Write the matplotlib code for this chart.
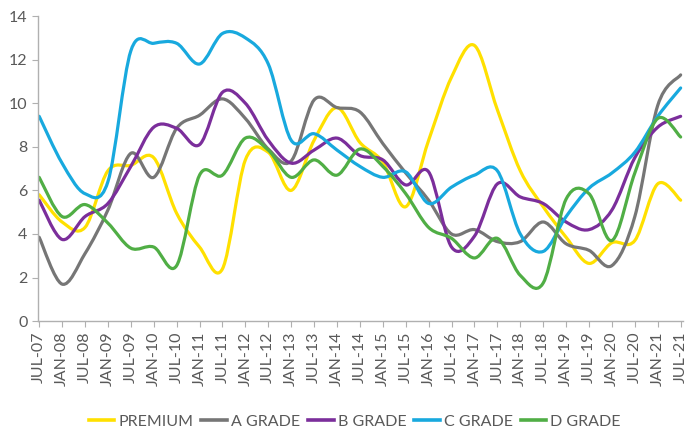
import numpy as np
import matplotlib.pyplot as plt
from matplotlib.path import Path
from matplotlib.patches import PathPatch
from matplotlib.lines import Line2D

plt.rcParams['font.family'] = ['Lato', 'DejaVu Sans']

# semi-annual periods
periods = []
for yr in range(7, 22):
    if yr > 7:
        periods.append('JAN-%02d' % yr)
    periods.append('JUL-%02d' % yr)

premium = [5.8, 4.55, 4.3, 6.9, 7.15, 7.5, 4.95, 3.4, 2.4, 7.4, 7.75, 6.0, 8.3, 9.8, 8.2,
           7.3, 5.25, 8.3, 11.2, 12.65, 9.7, 6.9, 5.25, 3.85, 2.65, 3.6, 3.7, 6.3, 5.55]
a_grade = [3.85, 1.7, 3.1, 5.1, 7.7, 6.6, 8.85, 9.45, 10.2, 9.3, 7.9, 7.35, 10.15, 9.8, 9.6,
           8.15, 6.8, 5.55, 4.0, 4.2, 3.65, 3.65, 4.55, 3.55, 3.25, 2.55, 4.8, 9.9, 11.3]
b_grade = [5.55, 3.75, 4.8, 5.4, 7.1, 8.9, 8.85, 8.1, 10.5, 10.0, 8.3, 7.25, 7.85, 8.4, 7.6,
           7.4, 6.25, 6.85, 3.4, 3.9, 6.3, 5.7, 5.4, 4.55, 4.2, 5.1, 7.5, 8.9, 9.4]
c_grade = [9.4, 7.25, 5.85, 6.4, 12.4, 12.75, 12.75, 11.8, 13.2, 13.0, 11.8, 8.3, 8.6, 7.85, 7.1,
           6.6, 6.85, 5.4, 6.15, 6.7, 6.9, 4.0, 3.2, 4.8, 6.1, 6.8, 7.75, 9.4, 10.7]
d_grade = [6.6, 4.8, 5.35, 4.5, 3.35, 3.4, 2.55, 6.7, 6.7, 8.4, 7.85, 6.6, 7.4, 6.7, 7.9,
           7.1, 5.85, 4.3, 3.8, 2.9, 3.8, 2.1, 1.75, 5.6, 5.85, 3.7, 6.8, 9.3, 8.45]

series = [
    ('PREMIUM', premium, '#FFE000'),
    ('A GRADE', a_grade, '#767676'),
    ('B GRADE', b_grade, '#7B2E9B'),
    ('C GRADE', c_grade, '#18A9DE'),
    ('D GRADE', d_grade, '#50AE45'),
]


def smooth_path(x, y):
    # bezier segments through the points, like a spreadsheet "smoothed line"
    pts = np.column_stack([x, y])
    n = len(pts)
    verts = [pts[0]]
    codes = [Path.MOVETO]
    for i in range(n - 1):
        p0 = pts[max(i - 1, 0)]
        p1 = pts[i]
        p2 = pts[i + 1]
        p3 = pts[min(i + 2, n - 1)]
        verts += [p1 + (p2 - p0) / 6, p2 - (p3 - p1) / 6, p2]
        codes += [Path.CURVE4] * 3
    return Path(verts, codes)


fig = plt.figure(figsize=(6.89, 4.34), dpi=100)
ax = fig.add_axes([0.0552, 0.26, 0.936, 0.703])

x = np.arange(len(periods))
handles = []
for name, vals, col in series:
    patch = PathPatch(smooth_path(x, vals), facecolor='none', edgecolor=col,
                      lw=2.3, capstyle='round', joinstyle='round')
    ax.add_patch(patch)
    handles.append(Line2D([], [], color=col, lw=2.6, label=name))

ax.set_xlim(-0.05, 28.1)
ax.set_ylim(0, 14)
ax.set_yticks(range(0, 15, 2))
ax.set_xticks(x)
ax.set_xticklabels(periods, rotation=90)

for s in ['top', 'right']:
    ax.spines[s].set_visible(False)
for s in ['left', 'bottom']:
    ax.spines[s].set_color('#B0B0B0')
    ax.spines[s].set_linewidth(1)
ax.tick_params(axis='both', colors='#B0B0B0', labelcolor='#595959', labelsize=11.5, length=4)

fig.legend(handles=handles, loc='center', bbox_to_anchor=(0.515, 0.028), ncol=5,
           frameon=False, fontsize=11.5, labelcolor='#595959', handlelength=1.6,
           handletextpad=0.25, columnspacing=0.5)

fig.savefig('out.png', dpi=100)
